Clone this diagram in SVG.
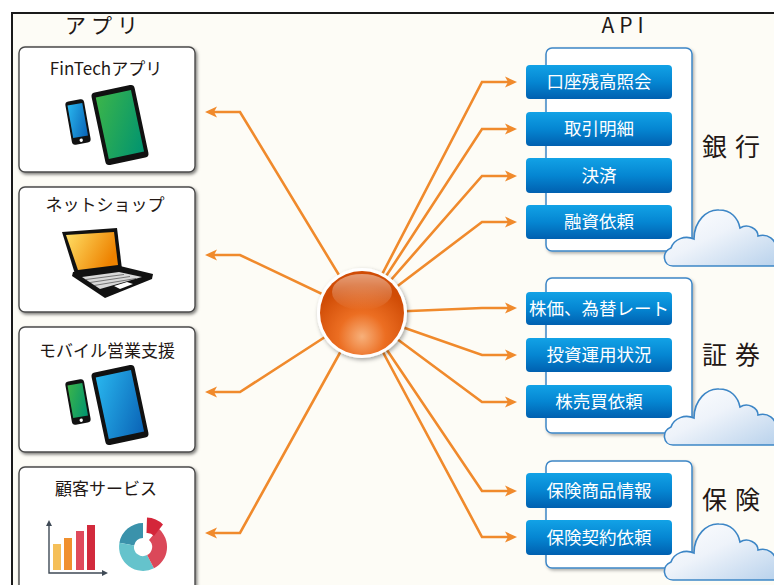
<svg xmlns="http://www.w3.org/2000/svg" width="774" height="585" viewBox="0 0 774 585">
  <style>
    .app-box { fill: #ffffff; stroke: #4a4a4a; stroke-width: 1.4; filter: url(#shadow); }
    .app-title { font-family: "Noto Sans CJK JP", "Noto Sans", sans-serif; font-size: 17px; fill: #231815; text-anchor: middle; }
    .head { font-family: "Noto Sans CJK JP", "Noto Sans", sans-serif; font-size: 21px; fill: #231815; text-anchor: middle; letter-spacing: 5px; }
    .group-box { fill: #ffffff; stroke: #3d86c6; stroke-width: 1.5; filter: url(#shadowLight); }
    .btn { fill: url(#btnGrad); }
    .btn-text { font-family: "Noto Sans CJK JP", "Noto Sans", sans-serif; font-size: 17.5px; fill: #ffffff; text-anchor: middle; }
    .group-label { font-family: "Noto Sans CJK JP", "Noto Sans", sans-serif; font-size: 25px; fill: #231815; text-anchor: middle; letter-spacing: 8px; }
    .cloud { fill: url(#cloudGrad); stroke: #3d86c6; stroke-width: 1.6; }
    .link { fill: none; stroke: #f08a2c; stroke-width: 2.6; stroke-linejoin: miter; marker-end: url(#arrow); }
    .dev { fill: #111111; }
  </style>
  <defs>
    <filter id="shadow" x="-10%" y="-10%" width="125%" height="125%">
      <feDropShadow dx="1.5" dy="1.8" stdDeviation="1.4" flood-color="#000" flood-opacity="0.5"/>
    </filter>
    <filter id="shadowLight" x="-10%" y="-10%" width="125%" height="125%">
      <feDropShadow dx="1.5" dy="1.8" stdDeviation="1.6" flood-color="#000" flood-opacity="0.3"/>
    </filter>
    <filter id="ballShadow" x="-20%" y="-20%" width="145%" height="145%">
      <feDropShadow dx="1.5" dy="2" stdDeviation="2" flood-color="#000" flood-opacity="0.35"/>
    </filter>
    <linearGradient id="btnGrad" x1="0" y1="0" x2="0" y2="1">
      <stop offset="0" stop-color="#12a2e6"/>
      <stop offset="0.5" stop-color="#0586d2"/>
      <stop offset="1" stop-color="#0060b0"/>
    </linearGradient>
    <linearGradient id="cloudGrad" x1="0" y1="0" x2="1" y2="1">
      <stop offset="0" stop-color="#ffffff"/>
      <stop offset="0.45" stop-color="#eef3fa"/>
      <stop offset="1" stop-color="#b9d2ec"/>
    </linearGradient>
    <radialGradient id="ballGrad" cx="0.5" cy="0.78" r="0.62">
      <stop offset="0" stop-color="#f7b07a"/>
      <stop offset="0.45" stop-color="#ec6e22"/>
      <stop offset="1" stop-color="#d04c06"/>
    </radialGradient>
    <linearGradient id="glossGrad" x1="0" y1="0" x2="0" y2="1">
      <stop offset="0" stop-color="#ffffff" stop-opacity="0.45"/>
      <stop offset="1" stop-color="#ffffff" stop-opacity="0"/>
    </linearGradient>
    <linearGradient id="blueScreen" x1="0" y1="0" x2="1" y2="1">
      <stop offset="0" stop-color="#29b6ee"/>
      <stop offset="1" stop-color="#0a63b6"/>
    </linearGradient>
    <linearGradient id="greenScreen" x1="0" y1="0" x2="1" y2="1">
      <stop offset="0" stop-color="#3cb54a"/>
      <stop offset="1" stop-color="#009370"/>
    </linearGradient>
    <linearGradient id="laptopScreen" x1="0" y1="0" x2="1" y2="0.4">
      <stop offset="0" stop-color="#ffe066"/>
      <stop offset="1" stop-color="#ee8200"/>
    </linearGradient>
    <marker id="arrow" viewBox="0 0 12 12" refX="4" refY="6" markerWidth="12" markerHeight="12" markerUnits="userSpaceOnUse" orient="auto">
      <path d="M0,0.5 L12,6 L0,11.5 L3,6 Z" fill="#f08a2c"/>
    </marker>
    <path id="cloudShape" d="M10,58 C0,58 -2,44 8,40 C11,31 22,27 31,31 C31,13 44,1 56,2 C68,2 75,10 77,20 C85,15 95,21 95,28 C105,25 113,32 113,40 L113,58 Z"/>
  </defs>

  <!-- page background and frame -->
  <rect x="0" y="0" width="774" height="585" fill="#ffffff"/>
  <rect x="12" y="13" width="762" height="572" fill="#fdfcf6"/>
  <path d="M12,585 L12,13 L774,13" fill="none" stroke="#1a1a1a" stroke-width="2"/>

  <!-- column headings -->
  <text class="head" x="104" y="33">アプリ</text>
  <text class="head" x="625" y="33">API</text>

  <!-- connectors -->
  <g id="connectors">
    <polyline class="link" points="362,313 240,112 213,112"/>
    <polyline class="link" points="362,313 240,255 213,255"/>
    <polyline class="link" points="362,313 240,392 213,392"/>
    <polyline class="link" points="362,313 240,533 213,533"/>
    <polyline class="link" points="362,313 482,82 509,82"/>
    <polyline class="link" points="362,313 482,129 509,129"/>
    <polyline class="link" points="362,313 482,176 509,176"/>
    <polyline class="link" points="362,313 482,222 509,222"/>
    <polyline class="link" points="362,313 482,308 509,308"/>
    <polyline class="link" points="362,313 482,355 509,355"/>
    <polyline class="link" points="362,313 482,402 509,402"/>
    <polyline class="link" points="362,313 482,491 509,491"/>
    <polyline class="link" points="362,313 482,537 509,537"/>
  </g>

  <!-- hub -->
  <g id="hub">
    <circle cx="362" cy="313" r="45" fill="#ffffff" filter="url(#ballShadow)"/>
    <circle cx="362" cy="313" r="42" fill="url(#ballGrad)"/>
    <ellipse cx="362" cy="292" rx="30" ry="18" fill="url(#glossGrad)"/>
  </g>

  <!-- app: FinTech -->
  <g id="app-fintech">
    <rect class="app-box" x="19" y="47" width="176" height="125" rx="6"/>
    <text class="app-title" x="106" y="75">FinTechアプリ</text>
    <g transform="rotate(-10 78 122)">
      <rect class="dev" x="68.5" y="100" width="19" height="44" rx="3.5"/>
      <rect x="70.5" y="104" width="15" height="33" fill="url(#blueScreen)"/>
      <circle cx="78" cy="140.5" r="1.7" fill="#ffffff"/>
    </g>
    <g transform="rotate(-12 120 125)">
      <rect class="dev" x="98" y="88" width="44" height="74" rx="4"/>
      <rect x="102" y="93" width="36" height="63" fill="url(#greenScreen)"/>
    </g>
  </g>

  <!-- app: online shop -->
  <g id="app-shop">
    <rect class="app-box" x="19" y="187" width="176" height="125" rx="6"/>
    <text class="app-title" x="105" y="211">ネットショップ</text>
    <polygon class="dev" points="62,232 117,228 122,269 75,274"/>
    <polygon points="66,235 114,232 118,265 78,270" fill="url(#laptopScreen)"/>
    <polygon class="dev" points="73,272 120,266 153,274 152,279 105,298 72,276"/>
    <polygon points="82,277 119,272 142,277 100,289" fill="#d8d8d8"/>
    <g stroke="#333" stroke-width="0.6">
      <line x1="86" y1="279.5" x2="124" y2="274.5"/>
      <line x1="90" y1="282.5" x2="130" y2="276.5"/>
      <line x1="94" y1="285.5" x2="136" y2="278.5"/>
    </g>
    <polygon points="114,286 127,282 133,284 120,289" fill="#ffffff"/>
  </g>

  <!-- app: mobile sales support -->
  <g id="app-mobile">
    <rect class="app-box" x="19" y="327" width="176" height="125" rx="6"/>
    <text class="app-title" x="107" y="357">モバイル営業支援</text>
    <g transform="rotate(-10 78 402)">
      <rect class="dev" x="68.5" y="380" width="19" height="44" rx="3.5"/>
      <rect x="70.5" y="384" width="15" height="33" fill="url(#greenScreen)"/>
      <circle cx="78" cy="420.5" r="1.7" fill="#ffffff"/>
    </g>
    <g transform="rotate(-12 120 405)">
      <rect class="dev" x="98" y="368" width="44" height="74" rx="4"/>
      <rect x="102" y="373" width="36" height="63" fill="url(#blueScreen)"/>
    </g>
  </g>

  <!-- app: customer service -->
  <g id="app-service">
    <rect class="app-box" x="19" y="467" width="176" height="130" rx="6"/>
    <text class="app-title" x="106" y="495">顧客サービス</text>
    <!-- bar chart -->
    <g stroke="#3f4a56" stroke-width="1.4" fill="none">
      <path d="M49,524 L49,573 L104,573"/>
    </g>
    <path d="M49,520 L46,526 L52,526 Z M108,573 L102,570 L102,576 Z" fill="#3f4a56"/>
    <rect x="53" y="544" width="8" height="26" fill="#f5bf58"/>
    <rect x="64" y="538" width="8" height="32" fill="#f0902e"/>
    <rect x="76" y="531" width="8" height="39" fill="#df4a5c"/>
    <rect x="87" y="525" width="8" height="45" fill="#d22a3c"/>
    <!-- donut -->
    <path d="M143,523 A24,24 0 0 0 119.4,542.8 L134.1,545.4 A9,9 0 0 1 143,538 Z" fill="#3a92ab"/>
    <path d="M119.4,542.8 A24,24 0 0 0 154,568.3 L147.1,555 A9,9 0 0 1 134.1,545.4 Z" fill="#65c3cc"/>
    <path d="M154,568.3 A24,24 0 0 0 158.5,528.6 L149,540 A9,9 0 0 1 147.1,555 Z" fill="#db4859"/>
    <path d="M147,517.5 A24,24 0 0 1 163,524.5 L154,536 A9,9 0 0 0 146.5,533 Z" fill="#d4263a"/>
  </g>

  <!-- bank -->
  <g id="api-bank">
    <rect class="group-box" x="546" y="48" width="146" height="203" rx="6"/>
    <rect class="btn" x="526" y="65" width="146" height="34" rx="4"/>
    <text class="btn-text" x="599" y="88">口座残高照会</text>
    <rect class="btn" x="526" y="112" width="146" height="34" rx="4"/>
    <text class="btn-text" x="599" y="135">取引明細</text>
    <rect class="btn" x="526" y="158" width="146" height="35" rx="4"/>
    <text class="btn-text" x="599" y="182">決済</text>
    <rect class="btn" x="526" y="205" width="146" height="34" rx="4"/>
    <text class="btn-text" x="599" y="228">融資依頼</text>
    <use href="#cloudShape" class="cloud" transform="translate(663,208)"/>
    <text class="group-label" x="735" y="156">銀行</text>
  </g>

  <!-- securities -->
  <g id="api-securities">
    <rect class="group-box" x="546" y="278" width="146" height="155" rx="6"/>
    <rect class="btn" x="526" y="292" width="146" height="33" rx="4"/>
    <text class="btn-text" x="599" y="315">株価、為替レート</text>
    <rect class="btn" x="526" y="338" width="146" height="34" rx="4"/>
    <text class="btn-text" x="599" y="361">投資運用状況</text>
    <rect class="btn" x="526" y="385" width="146" height="33" rx="4"/>
    <text class="btn-text" x="599" y="408">株売買依頼</text>
    <use href="#cloudShape" class="cloud" transform="translate(663,387)"/>
    <text class="group-label" x="735" y="364">証券</text>
  </g>

  <!-- insurance -->
  <g id="api-insurance">
    <rect class="group-box" x="546" y="461" width="146" height="107" rx="6"/>
    <rect class="btn" x="526" y="473" width="146" height="35" rx="4"/>
    <text class="btn-text" x="599" y="497">保険商品情報</text>
    <rect class="btn" x="526" y="520" width="146" height="35" rx="4"/>
    <text class="btn-text" x="599" y="544">保険契約依頼</text>
    <use href="#cloudShape" class="cloud" transform="translate(663,522)"/>
    <text class="group-label" x="735" y="509">保険</text>
  </g>
</svg>
